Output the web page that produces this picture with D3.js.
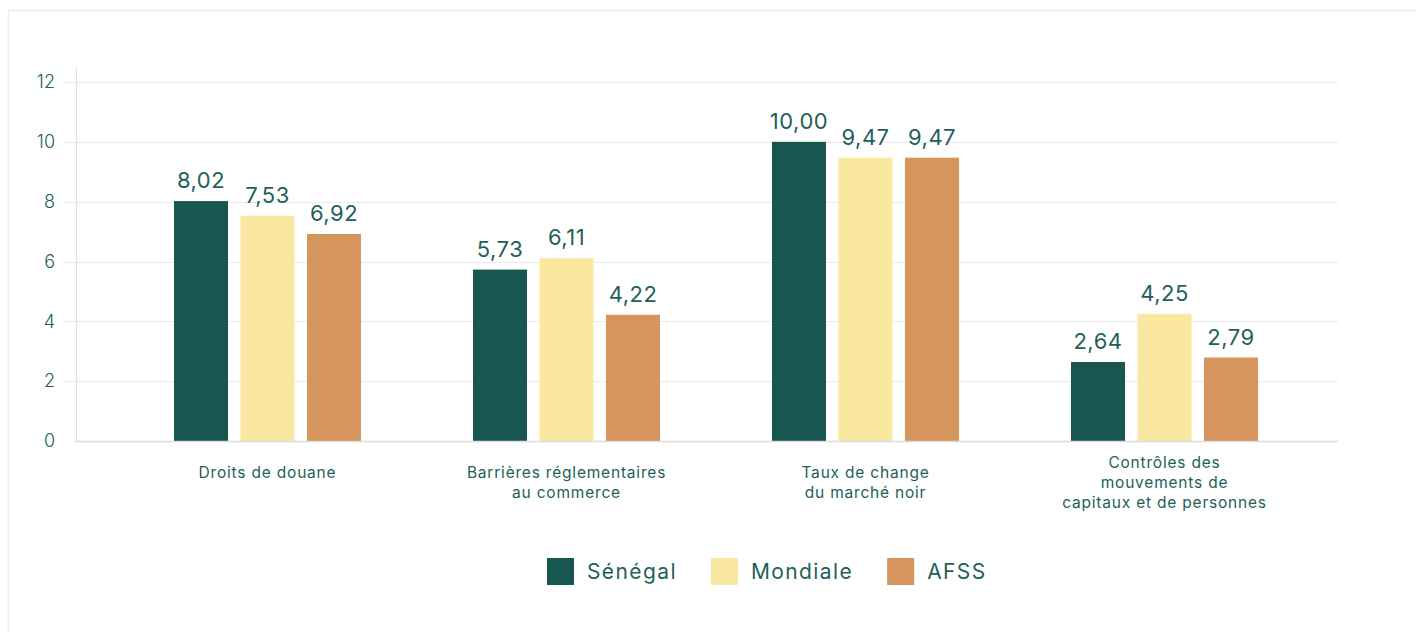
<!DOCTYPE html>
<html>
<head>
<meta charset="utf-8">
<script src="https://cdn.jsdelivr.net/npm/d3@7"></script>
<style>
  body { margin: 0; background: #fff; }
  svg { display: block; font-family: "Inter", "Open Sans", sans-serif; }
  .lbl { fill: #235f59; }
</style>
</head>
<body>
<div id="chart"></div>
<script>
// data
var categories = [
  ["Droits de douane"],
  ["Barrières réglementaires", "au commerce"],
  ["Taux de change", "du marché noir"],
  ["Contrôles des", "mouvements de", "capitaux et de personnes"]
];
var series = ["Sénégal", "Mondiale", "AFSS"];
var senegal = [8.02, 5.73, 10.00, 2.64];
var mondiale = [7.53, 6.11, 9.47, 4.25];
var afss = [6.92, 4.22, 9.47, 2.79];
var yTicks = [0, 2, 4, 6, 8, 10, 12];
var colors = ["#185651", "#fbe8a0", "#d6955c"];

var values = [senegal, mondiale, afss];
var W = 1416, H = 632;
var plot = { left: 76, right: 1338, top: 66, bottom: 441 };

var svg = d3.select("#chart").append("svg")
  .attr("width", W)
  .attr("height", H);

// card outline
svg.append("rect")
  .attr("x", 8.5).attr("y", 10.5)
  .attr("width", W).attr("height", H)
  .style("fill", "#fff")
  .style("stroke", "#ececec")
  .style("stroke-width", 1.5);

var y = d3.scaleLinear().domain([0, 12]).range([plot.bottom, 82]);

var x0 = d3.scaleBand()
  .domain(d3.range(categories.length))
  .range([118, 1314]);

var x1 = d3.scaleBand()
  .domain(series)
  .range([0, 187])
  .paddingInner(0.188);

// gridlines
svg.selectAll(".grid")
  .data(yTicks.filter(function (d) { return d > 0; }))
  .enter().append("line")
    .attr("x1", 64).attr("x2", plot.right)
    .attr("y1", function (d) { return Math.round(y(d)) + 0.5; })
    .attr("y2", function (d) { return Math.round(y(d)) + 0.5; })
    .style("stroke", "#e9e9e9");

// y axis line
svg.append("line")
  .attr("x1", plot.left + 0.5).attr("x2", plot.left + 0.5)
  .attr("y1", plot.top).attr("y2", plot.bottom)
  .style("stroke", "#e3e3e3");

// y tick labels
var yAxis = svg.append("g")
  .attr("transform", "translate(" + plot.left + ",0)")
  .call(d3.axisLeft(y).tickValues(yTicks).tickSize(0).tickPadding(21));
yAxis.select(".domain").remove();
yAxis.selectAll("text")
  .attr("class", "lbl")
  .style("font-size", "18px")
  .style("font-weight", 300)
  .style("font-family", "Inter, sans-serif");

// bars
var groups = svg.selectAll(".group")
  .data(categories)
  .enter().append("g")
    .attr("transform", function (d, i) {
      return "translate(" + (x0(i) + x0.bandwidth() / 2 - 93.5) + ",0)";
    });

groups.each(function (c, i) {
  var g = d3.select(this);
  series.forEach(function (s, k) {
    var v = values[k][i];
    g.append("rect")
      .attr("x", x1(s))
      .attr("y", y(v))
      .attr("width", x1.bandwidth())
      .attr("height", y(0) - y(v))
      .style("fill", colors[k]);
    g.append("text")
      .attr("class", "lbl")
      .attr("x", x1(s) + x1.bandwidth() / 2)
      .attr("y", y(v) - 13)
      .attr("text-anchor", "middle")
      .style("font-size", "22px")
      .style("letter-spacing", "0.5px")
      .text(v.toFixed(2).replace(".", ","));
  });
});

// baseline
svg.append("line")
  .attr("x1", plot.left - 1).attr("x2", plot.right)
  .attr("y1", plot.bottom + 0.5).attr("y2", plot.bottom + 0.5)
  .style("stroke", "#dcdcdc")
  .style("stroke-width", 1.5);

// category labels
groups.each(function (c, i) {
  var t = d3.select(this).append("text")
    .attr("class", "lbl")
    .attr("text-anchor", "middle")
    .style("font-size", "15.5px")
    .style("letter-spacing", "0.8px");
  var startY = 478 - Math.max(0, c.length - 2) * 10;
  c.forEach(function (line, j) {
    t.append("tspan")
      .attr("x", 93.5)
      .attr("y", startY + j * 20)
      .text(line);
  });
});

// legend
var legend = svg.append("g").attr("transform", "translate(547,558)");
var lx = 0;
series.forEach(function (s, k) {
  legend.append("rect")
    .attr("x", lx).attr("y", 0)
    .attr("width", 27).attr("height", 27)
    .style("fill", colors[k]);
  var t = legend.append("text")
    .attr("class", "lbl")
    .attr("x", lx + 40)
    .attr("y", 21)
    .style("font-size", "21px")
    .style("letter-spacing", "1.4px")
    .text(s);
  lx += 40 + t.node().getComputedTextLength() + 34;
});
</script>
</body>
</html>
